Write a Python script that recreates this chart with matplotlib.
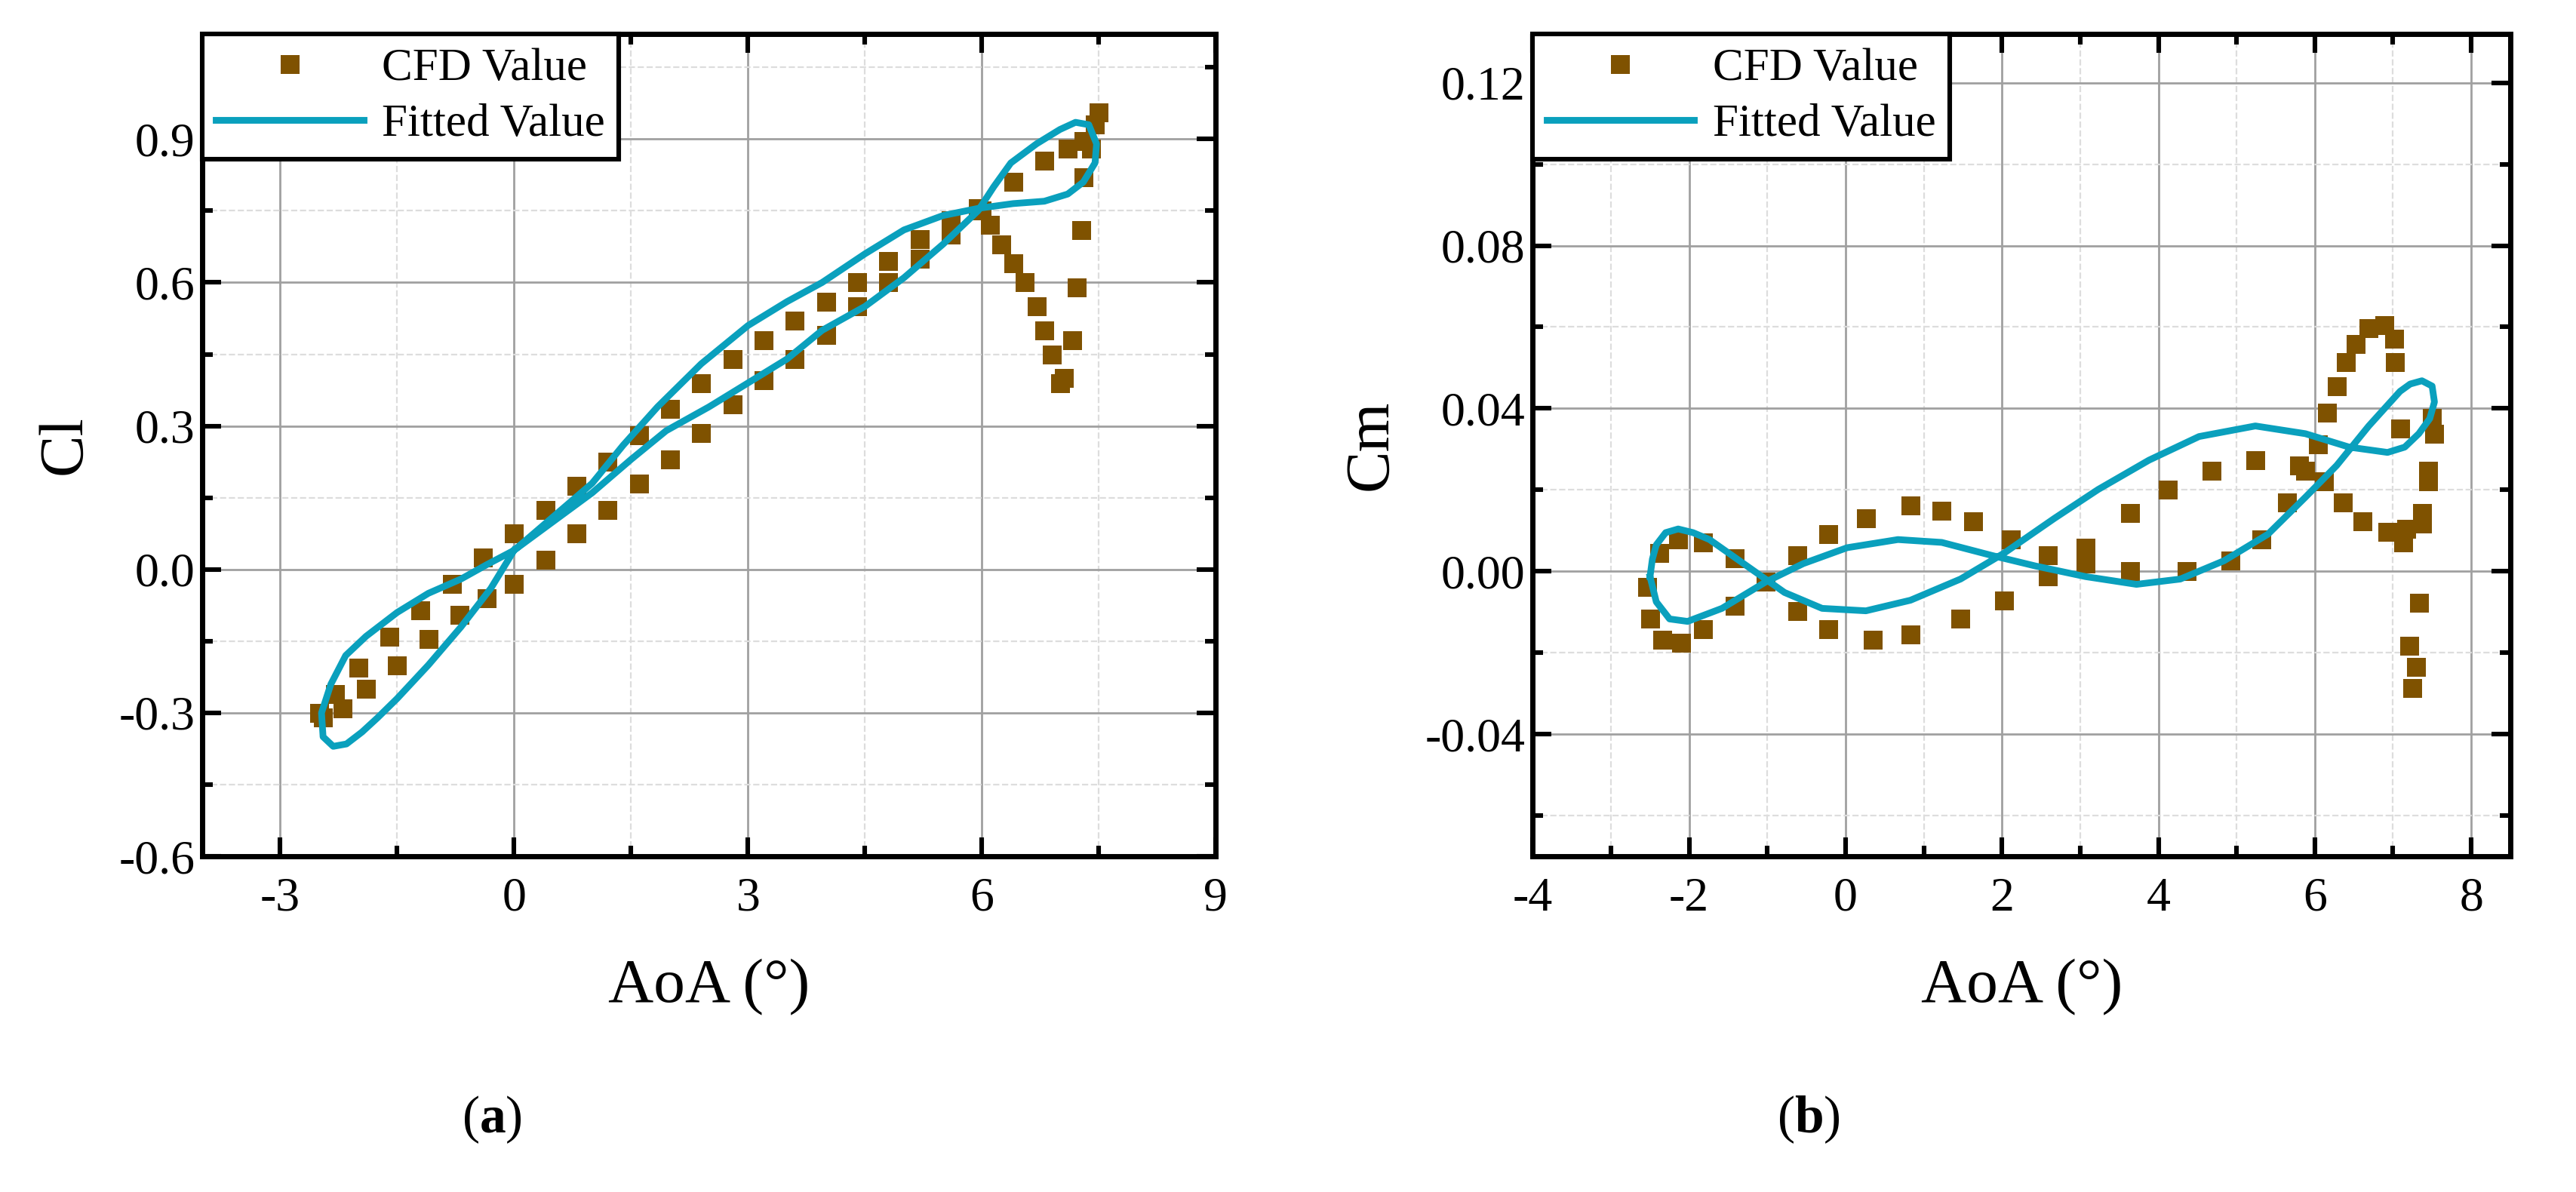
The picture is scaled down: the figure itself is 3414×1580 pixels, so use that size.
import matplotlib
matplotlib.use("Agg")
import matplotlib.pyplot as plt
from matplotlib.ticker import MultipleLocator, AutoMinorLocator

# ── data ──────────────────────────────────────────────────
cl_cfd_aoa = [-2.45, -2.2, -1.9, -1.5, -1.1, -0.7, -0.35, 0.0, 0.4, 0.8, 1.2, 1.6, 2.0, 2.4, 2.8,
              3.2, 3.6, 4.0, 4.4, 4.8, 5.2, 5.6, 6.0, 6.4, 6.8, 7.1, 7.3, 7.45, 7.5,
              7.4, 7.3, 7.27, 7.22, 7.16, 7.05, 7.0, 6.9, 6.8, 6.7, 6.55, 6.4, 6.25, 6.1, 5.95,
              5.6, 5.2, 4.8, 4.4, 4.0, 3.6, 3.2, 2.8, 2.4, 2.0, 1.6, 1.2, 0.8, 0.4, 0.0,
              -0.4, -0.8, -1.2, -1.6, -2.0, -2.3, -2.5]
cl_cfd = [-0.31, -0.29, -0.25, -0.20, -0.145, -0.095, -0.06, -0.03, 0.02, 0.075, 0.125, 0.18, 0.23, 0.285, 0.345,
          0.395, 0.44, 0.49, 0.55, 0.60, 0.65, 0.70, 0.75, 0.81, 0.855, 0.88, 0.895, 0.93, 0.955,
          0.88, 0.82, 0.71, 0.59, 0.48, 0.40, 0.39, 0.45, 0.50, 0.55, 0.60, 0.64, 0.68, 0.72, 0.755,
          0.73, 0.69, 0.645, 0.60, 0.56, 0.52, 0.48, 0.44, 0.39, 0.335, 0.28, 0.225, 0.175, 0.125, 0.075,
          0.025, -0.03, -0.085, -0.14, -0.205, -0.26, -0.30]

cl_fit_aoa = [0.0, 0.5, 1.0, 1.4, 1.84, 2.4, 3.0, 3.5, 3.95, 4.5, 5.0, 5.5, 5.95, 6.4, 6.8, 7.1, 7.3,
              7.45, 7.47, 7.37, 7.2, 7.0, 6.7, 6.37, 6.15, 5.95, 5.5, 5.0, 4.5, 3.95, 3.5, 3.0, 2.5,
              1.95, 1.5, 1.0, 0.5, 0.0, -0.35, -0.68, -1.1, -1.5, -1.9, -2.16, -2.35, -2.47, -2.45,
              -2.32, -2.15, -1.95, -1.75, -1.5, -1.1, -0.68, -0.3, 0.0]
cl_fit = [0.04, 0.11, 0.18, 0.26, 0.34, 0.43, 0.51, 0.56, 0.60, 0.66, 0.71, 0.74, 0.755, 0.765, 0.77,
          0.785, 0.81, 0.85, 0.89, 0.93, 0.935, 0.92, 0.89, 0.85, 0.80, 0.75, 0.68, 0.61, 0.55, 0.50,
          0.44, 0.39, 0.34, 0.29, 0.23, 0.16, 0.10, 0.04, 0.01, -0.02, -0.05, -0.09, -0.14, -0.18,
          -0.24, -0.30, -0.35, -0.37, -0.365, -0.34, -0.31, -0.27, -0.20, -0.12, -0.04, 0.04]

cm_cfd_aoa = [-2.54, -2.50, -2.34, -2.10, -1.82, -1.42, -1.02, -0.62, -0.22, 0.26, 0.83, 1.23, 1.63, 2.11,
              2.59, 3.07, 3.64, 4.36, 4.92, 5.32, 5.64, 5.88, 6.04, 6.16, 6.28, 6.40, 6.52, 6.69, 6.89,
              7.01, 7.02, 7.09, 7.13, 7.33, 7.21, 7.29, 7.25, 7.37, 7.45, 7.53, 7.50, 7.45, 7.37, 7.17,
              6.93, 6.61, 6.36, 6.12, 5.80, 5.24, 4.68, 4.12, 3.64, 3.07, 2.59, 2.03, 1.47, 0.83, 0.35,
              -0.22, -0.62, -1.02, -1.42, -1.82, -2.14, -2.38]
cm_cfd = [-0.0039, -0.0117, -0.0169, -0.0175, -0.0143, -0.0084, -0.0026, 0.0039, 0.0091, 0.0130, 0.0162,
          0.0149, 0.0123, 0.0078, 0.0039, 0.0019, 0.0, 0.0, 0.0026, 0.0078, 0.0169, 0.0247, 0.0312, 0.0390,
          0.0455, 0.0513, 0.0558, 0.0597, 0.0604, 0.0571, 0.0513, 0.0351, 0.0071, -0.0078, -0.0182, -0.0234,
          -0.0286, 0.0117, 0.0221, 0.0338, 0.0377, 0.0247, 0.0143, 0.0104, 0.0097, 0.0123, 0.0169, 0.0221,
          0.0260, 0.0273, 0.0247, 0.0201, 0.0143, 0.0058, -0.0013, -0.0071, -0.0117, -0.0156, -0.0169,
          -0.0143, -0.0097, -0.0026, 0.0032, 0.0071, 0.0078, 0.0045]

cm_fit_aoa = [-2.50, -2.47, -2.42, -2.30, -2.14, -1.95, -1.74, -1.26, -0.78, -0.30, 0.26, 0.83, 1.47,
              2.03, 2.67, 3.23, 3.88, 4.52, 5.24, 5.88, 6.44, 6.93, 7.15, 7.33, 7.47, 7.53, 7.50, 7.37,
              7.22, 7.09, 6.69, 6.28, 5.88, 5.40, 4.84, 4.28, 3.72, 3.07, 2.43, 1.87, 1.23, 0.67, 0.02,
              -0.54, -1.02, -1.58, -2.02, -2.25, -2.42, -2.50]
cm_fit = [-0.0013, 0.0030, 0.0065, 0.0095, 0.0104, 0.0095, 0.0078, 0.0013, -0.0052, -0.0091, -0.0097,
          -0.0071, -0.0019, 0.0045, 0.0130, 0.0201, 0.0273, 0.0331, 0.0357, 0.0338, 0.0305, 0.0292, 0.0305,
          0.0338, 0.0375, 0.0416, 0.0455, 0.0468, 0.0460, 0.0442, 0.0357, 0.0260, 0.0182, 0.0091, 0.0026,
          -0.0019, -0.0032, -0.0013, 0.0013, 0.0039, 0.0071, 0.0078, 0.0058, 0.0019, -0.0026, -0.0091,
          -0.0123, -0.0117, -0.0075, -0.0013]

# ── style ─────────────────────────────────────────────────
plt.rcParams["font.family"] = "Liberation Serif"
plt.rcParams["mathtext.fontset"] = "custom"
plt.rcParams["mathtext.rm"] = "Liberation Serif"
plt.rcParams["mathtext.bf"] = "Liberation Serif:bold"
plt.rcParams["axes.unicode_minus"] = False
BROWN = "#7f5200"
CYAN = "#0aa0bd"

fig = plt.figure(figsize=(17.07, 7.9), dpi=200)
ax1 = fig.add_axes([0.0785, 0.2816, 0.3935, 0.69])
ax2 = fig.add_axes([0.595, 0.2816, 0.3795, 0.69])


def style(ax, ylabel):
    ax.grid(True, which="major", color="#a0a0a0", lw=1.0)
    ax.grid(True, which="minor", color="#dddddd", lw=0.8, ls="--")
    ax.xaxis.set_minor_locator(AutoMinorLocator(2))
    ax.yaxis.set_minor_locator(AutoMinorLocator(2))
    ax.tick_params(which="both", direction="in", top=True, right=True, width=2.2, labelsize=23)
    ax.tick_params(which="major", length=9)
    ax.tick_params(which="minor", length=5)
    ax.tick_params(axis="x", pad=10)
    for s in ax.spines.values():
        s.set_linewidth(2.5)
    ax.set_axisbelow(True)
    ax.set_xlabel("AoA (°)", fontsize=30, labelpad=18)
    ax.set_ylabel(ylabel, fontsize=30, labelpad=12)
    leg = ax.legend(loc="upper left", borderaxespad=0, fontsize=22, fancybox=False,
                    framealpha=1, edgecolor="black", handlelength=3.2, borderpad=0.3,
                    labelspacing=0.3, handletextpad=0.4)
    leg.get_frame().set_linewidth(2.2)


ax1.plot(cl_cfd_aoa, cl_cfd, "s", color=BROWN, ms=9, mew=0, label="CFD Value")
ax1.plot(cl_fit_aoa, cl_fit, "-", color=CYAN, lw=3.2, label="Fitted Value")
ax1.set_xlim(-4, 9)
ax1.set_ylim(-0.6, 1.12)
ax1.xaxis.set_major_locator(MultipleLocator(3))
ax1.yaxis.set_major_locator(MultipleLocator(0.3))
ax1.yaxis.set_major_formatter(lambda v, p: f"{v:.1f}")
style(ax1, "Cl")

ax2.plot(cm_cfd_aoa, cm_cfd, "s", color=BROWN, ms=9, mew=0, label="CFD Value")
ax2.plot(cm_fit_aoa, cm_fit, "-", color=CYAN, lw=3.2, label="Fitted Value")
ax2.set_xlim(-4, 8.5)
ax2.set_ylim(-0.07, 0.132)
ax2.xaxis.set_major_locator(MultipleLocator(2))
ax2.yaxis.set_major_locator(MultipleLocator(0.04))
ax2.yaxis.set_major_formatter(lambda v, p: f"{v:.2f}")
style(ax2, "Cm")

fig.text(0.191, 0.05, r"($\mathbf{a}$)", fontsize=25, ha="center")
fig.text(0.702, 0.05, r"($\mathbf{b}$)", fontsize=25, ha="center")

fig.savefig("out.png", dpi=200)
